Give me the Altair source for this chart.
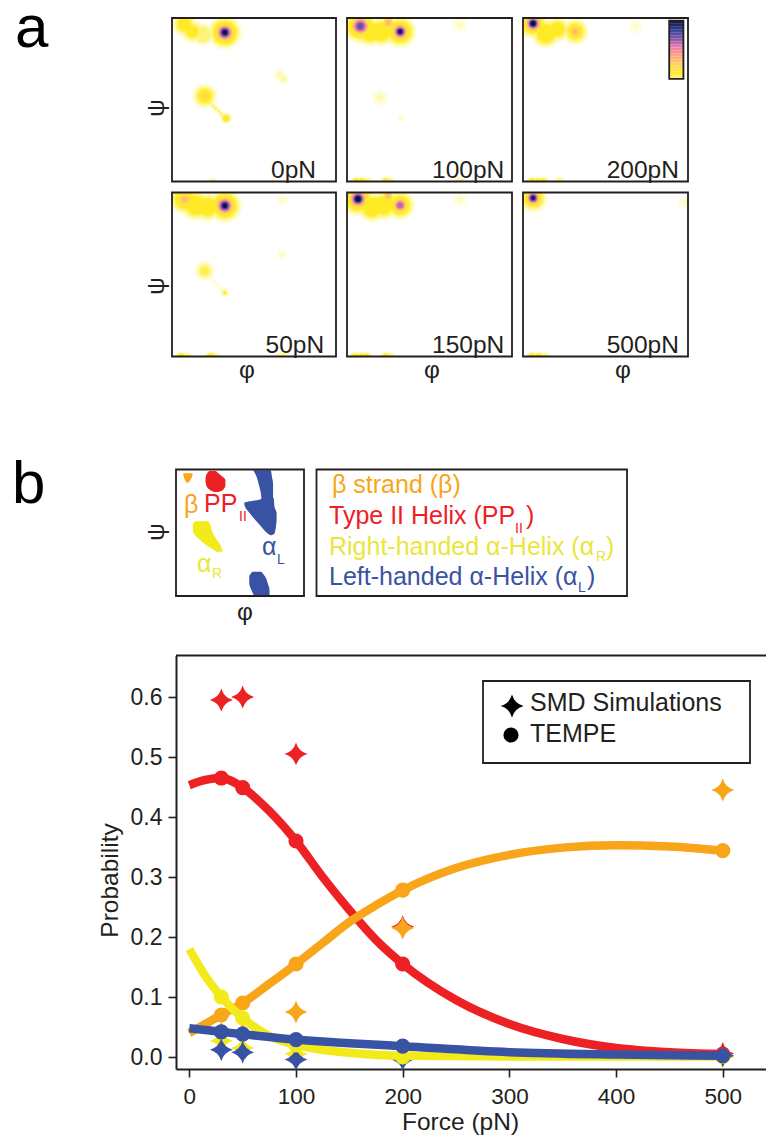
import numpy as np
import pandas as pd
import altair as alt

W, H = 758, 1127
FONT = "Liberation Sans"
INK = "#231f20"
ORANGE, RED, YELLOW, BLUE = "#f9a51a", "#ed2024", "#f2ea1a", "#3953a4"

# ---- panel a: density blobs: (phi, psi, widths in deg, levels) ----
H6 = (.02, .05, .09, .13, .17, .21)
H4 = (.02, .05, .09, .13)
CORE = (.3, .42, .55, .68, .82, 1)
PEAK_W = (88, 80, 73, 66, 60, 54, 42, 36, 30, 24, 18, 12)
PEAK_L = H6 + CORE
TAIL = (17, 11, 6)
TAIL_L = (.02, .08, .16)
EDGE_W = (34, 28, 22)
EDGE_L = (.04, .11, .2)
EDGE_FAINT = (.02, .06, .11)
P0 = [
    (-64, 148, PEAK_W, PEAK_L),
    (-153, 166, (64, 57, 50, 43, 37, 31), H6),
    (-135, 150, (60, 53, 46, 39, 33, 27), H6),
    (-112, 144, (58, 51, 44, 37), H4),
    (-108, 8, (64, 57, 50, 43, 37, 31, 22, 12), H6 + (.25, .31)),
    (-96, -8, TAIL, TAIL_L), (-90, -14, TAIL, TAIL_L), (-84, -19, TAIL, TAIL_L),
    (-78, -25, TAIL, TAIL_L), (-72, -31, TAIL, TAIL_L), (-66, -36, TAIL, TAIL_L),
    (-61, -41, (30, 24, 19, 14), (.03, .08, .15, .24)),
    (56, 55, (28, 20, 12), (.02, .05, .08)),
    (64, 46, (28, 20, 12), (.02, .05, .08)),
    (-90, -186, EDGE_W, EDGE_FAINT),
]
P50 = [
    (-64, 151, PEAK_W, PEAK_L),
    (-152, 165, (78, 71, 64, 57, 51, 45, 32, 22, 14), H6 + (.26, .33, .4)),
    (-128, 152, (78, 71, 64, 57, 51, 45), H6),
    (-102, 148, (74, 67, 60, 53, 47, 41), H6),
    (-108, 8, (50, 44, 38, 30, 20), (.02, .04, .07, .12, .17)),
    (-96, -6, (12, 6), (.02, .05)), (-88, -14, (12, 6), (.02, .05)), (-80, -22, (12, 6), (.02, .05)),
    (-72, -30, (12, 6), (.02, .05)),
    (-64, -40, (24, 17, 12, 7), (.02, .06, .12, .2)),
    (62, 44, (24, 12), (.02, .05)),
    (62, 165, (28, 14), (.02, .04)),
    (-160, -184, EDGE_W, EDGE_L), (-148, -184, EDGE_W, EDGE_FAINT),
    (-95, -184, EDGE_W, EDGE_L), (-85, -184, EDGE_W, EDGE_FAINT),
    (62, -182, EDGE_W, EDGE_FAINT),
]
P100 = [
    (-64, 150, (84, 76, 69, 62, 56, 50, 38, 32, 26, 20, 15, 10), PEAK_L),
    (-151, 162, (90, 82, 75, 68, 62, 56, 42, 36, 30, 24, 18, 12), H6 + (.3, .42, .55, .64, .72, .78)),
    (-130, 150, (76, 69, 62, 55, 49, 43), H6),
    (-105, 150, (76, 69, 62, 55, 49, 43), H6),
    (-90, 170, (24, 14), (.28, .4)),
    (-108, 5, (40, 26, 14), (.02, .04, .07)),
    (-62, -40, (18, 9), (.02, .05)),
    (66, 165, (36, 18), (.02, .05)),
    (-160, -184, EDGE_W, EDGE_L), (-148, -184, EDGE_W, EDGE_L), (-136, -184, EDGE_W, EDGE_FAINT),
    (-95, -184, EDGE_W, EDGE_L), (-85, -184, EDGE_W, EDGE_FAINT),
    (66, -184, EDGE_W, EDGE_FAINT),
]
P150 = [
    (-64, 152, (76, 69, 62, 55, 49, 43, 32, 26, 20, 14), H6 + (.3, .42, .55, .66)),
    (-156, 166, (88, 80, 73, 66, 60, 54, 42, 36, 30, 24, 18, 13), H6 + (.3, .42, .55, .7, .85, 1)),
    (-125, 148, (78, 71, 64, 57, 51, 45), H6),
    (-100, 152, (76, 69, 62, 55, 49, 43), H6),
    (-90, 172, (22, 12), (.28, .4)),
    (66, 165, (36, 16), (.02, .05)),
    (-162, -184, EDGE_W, EDGE_L), (-150, -184, EDGE_W, EDGE_L), (-138, -184, EDGE_W, EDGE_L),
    (-95, -184, EDGE_W, EDGE_L), (-85, -184, EDGE_W, EDGE_FAINT),
]
P200 = [
    (-66, 150, (68, 61, 54, 47, 41, 35, 24, 14), H6 + (.3, .4)),
    (-158, 168, (80, 73, 66, 59, 53, 47, 38, 32, 26, 21, 16, 12), H6 + (.3, .42, .55, .7, .85, 1)),
    (-130, 146, (76, 69, 62, 55, 49, 43), H6),
    (-105, 155, (66, 59, 52, 45, 39, 33), H6),
    (66, 160, (34, 16), (.02, .04)),
    (-160, -184, EDGE_W, EDGE_L), (-148, -184, EDGE_W, EDGE_L), (-136, -184, EDGE_W, EDGE_L),
    (-100, -184, EDGE_W, EDGE_FAINT),
]
P500 = [
    (-158, 168, (74, 67, 60, 53, 47, 41, 34, 28, 23, 18, 13, 9), H6 + (.3, .42, .55, .7, .85, 1)),
    (-160, -184, EDGE_W, EDGE_L), (-146, -184, EDGE_W, EDGE_L), (-132, -184, EDGE_W, EDGE_FAINT),
    (172, 158, (30, 14), (.02, .05)),
]

LEVEL_STOPS = [0, 0.08, 0.2, 0.35, 0.5, 0.6, 0.72, 0.85, 1]
LEVEL_COLORS = ["#fffff6", "#fff9a8", "#ffec1f", "#fed35c", "#f99c8c", "#e77fb0", "#8b58a8", "#2f4596", "#0f1240"]

# ---- panel b: regions as psi rows with phi limits ----
R_ORANGE = [(169, -160, -133), (159, -158, -135), (150, -155, -140), (142, -149, -146)]
R_RED = [(176, -87, -68), (164, -95, -55), (150, -97, -41), (135, -95, -41), (121, -83, -49), (116, -72, -60)]
R_YELLOW = [(33, -126, -89), (22, -133, -83), (3, -132, -78), (-16, -118, -68), (-35, -95, -55), (-54, -66, -49)]
R_BLUE_TOP = [(178, 37, 87), (159, 47, 90), (140, 52, 93), (121, 57, 93), (102, 60, 93), (97, 60, 95),
              (85, 12, 96), (74, 14, 97), (55, 28, 103), (36, 43, 103), (17, 60, 101), (-2, 78, 97), (-7, 86, 89)]
R_BLUE_LOW = [(-111, 35, 60), (-125, 26, 71), (-144, 26, 78), (-163, 32, 83), (-180, 40, 83)]

# ---- main plot ----
CURVE_X = {
    "red": [0, 15, 30, 50, 75, 100, 125, 150, 175, 200, 250, 300, 350, 400, 450, 500],
    "orange": [0, 30, 50, 75, 100, 125, 150, 175, 200, 250, 300, 350, 400, 450, 500],
    "yellow": [0, 15, 30, 50, 75, 100, 125, 150, 200, 300, 400, 500],
    "blue": [0, 30, 50, 100, 150, 200, 300, 400, 500],
}
CURVE_Y = {
    "red": [.453, .462, .465, .449, .41, .36, .30, .245, .195, .155, .095, .055, .03, .015, .008, .005],
    "orange": [.04, .07, .09, .122, .155, .19, .225, .253, .278, .315, .337, .349, .353, .351, .344],
    "yellow": [.18, .135, .10, .065, .035, .02, .012, .007, .002, .001, .001, .001],
    "blue": [.048, .042, .038, .029, .023, .018, .008, .004, .002],
}
TEMPE_X = {"red": [30, 50, 100, 200, 500], "orange": [30, 50, 100, 200, 500],
           "yellow": [30, 50, 100, 200, 500], "blue": [30, 50, 100, 200, 500]}
TEMPE_Y = {"red": [.465, .449, .36, .155, .005], "orange": [.07, .09, .155, .278, .344],
           "yellow": [.10, .065, .02, .0, .001], "blue": [.042, .038, .029, .018, .002]}
SMD_X = [30, 50, 100, 200, 500]
SMD_Y = {"red": [.595, .60, .505, .217, .006], "orange": [.04, .04, .075, .215, .445],
         "yellow": [.027, .015, .005, .0, .0], "blue": [.012, .008, -.004, -.004, .002]}
TICKS_X = [0, 100, 200, 300, 400, 500]
TICKS_Y = [0.0, 0.1, 0.2, 0.3, 0.4, 0.5, 0.6]
SERIES_COLOR = {"red": RED, "orange": ORANGE, "yellow": YELLOW, "blue": BLUE}

STAR = "M0,-1Q0.22,-0.22 1,0Q0.22,0.22 0,1Q-0.22,0.22 -1,0Q-0.22,-0.22 0,-1Z"

NO = None


def px(v):
    return v - 8


def label(s, x, y, size=24.5, color=INK, align="left", angle=0, baseline="middle"):
    return alt.Chart(pd.DataFrame({"t": [s]})).mark_text(
        font=FONT, fontSize=size, color=color, align=align, angle=angle, baseline=baseline
    ).encode(x=alt.value(px(x)), y=alt.value(px(y)), text="t:N")


def sx(rng):
    return alt.Scale(domain=[-180, 180], range=[px(rng[0]), px(rng[1])])


def sy(rng):
    return alt.Scale(domain=[-180, 180], range=[px(rng[1]), px(rng[0])])


PANELS = [
    ("0pN", P0, (172, 336), (18, 181.5), 136),
    ("100pN", P100, (347, 512), (18, 181.5), 163),
    ("200pN", P200, (523, 688), (18, 181.5), 160),
    ("50pN", P50, (172, 336), (192.5, 356.5), 154),
    ("150pN", P150, (347, 512), (192.5, 356.5), 163),
    ("500pN", P500, (523, 688), (192.5, 356.5), 160),
]

layers = []

level_scale = alt.Scale(domain=LEVEL_STOPS, range=LEVEL_COLORS, clamp=True)
width_scale = alt.Scale(type="pow", exponent=2, domain=[0, 100], range=[0, 1660])

# heat maps
for name, blobs, xr, yr, _ in PANELS:
    rows = []
    for phi, psi, widths, levels in blobs:
        for w, l in zip(widths, levels):
            rows.append({"phi": phi, "psi": psi, "w": w, "level": l})
    df = pd.DataFrame(rows).sort_values("level", kind="stable")
    layers.append(alt.Chart(df).mark_circle(opacity=1).encode(
        x=alt.X("phi:Q", scale=sx(xr), axis=NO),
        y=alt.Y("psi:Q", scale=sy(yr), axis=NO),
        size=alt.Size("w:Q", scale=width_scale, legend=NO),
        color=alt.Color("level:Q", scale=level_scale, legend=NO),
        order=alt.Order("level:Q"),
    ))

# masks + frames + labels
MASK = pd.DataFrame({
    "a": [-204, -204, -204, 180], "b": [204, 204, -180, 204],
    "c": [180, -204, -204, -204], "d": [204, -180, 204, 204],
})
FRAME = pd.DataFrame({"a": [-180], "b": [180], "c": [-180], "d": [180]})
for name, blobs, xr, yr, lx in PANELS:
    layers.append(alt.Chart(MASK).mark_rect(color="white").encode(
        x=alt.X("a:Q", scale=sx(xr), axis=NO), x2="b:Q",
        y=alt.Y("c:Q", scale=sy(yr), axis=NO), y2="d:Q"))

# colour bar inside the 200pN panel
bar_levels = np.linspace(0, 1, 40)
bar = pd.DataFrame({"level": bar_levels[:-1] * 0.86 + 0.14, "lo": 46 + bar_levels[:-1] * 128, "hi": 46 + bar_levels[1:] * 128.5,
                    "a": 139, "b": 170})
layers.append(alt.Chart(bar).mark_rect().encode(
    x=alt.X("a:Q", scale=sx((523, 688)), axis=NO), x2="b:Q",
    y=alt.Y("lo:Q", scale=sy((18, 181.5)), axis=NO), y2="hi:Q",
    color=alt.Color("level:Q", scale=level_scale, legend=NO)))
bar_frame = pd.DataFrame({"a": [139], "b": [170], "c": [46], "d": [174]})
layers.append(alt.Chart(bar_frame).mark_rect(filled=False, stroke=INK, strokeWidth=1.8).encode(
    x=alt.X("a:Q", scale=sx((523, 688)), axis=NO), x2="b:Q",
    y=alt.Y("c:Q", scale=sy((18, 181.5)), axis=NO), y2="d:Q"))

for name, blobs, xr, yr, lx in PANELS:
    layers.append(alt.Chart(FRAME).mark_rect(filled=False, stroke=INK, strokeWidth=1.8).encode(
        x=alt.X("a:Q", scale=sx(xr), axis=NO), x2="b:Q",
        y=alt.Y("c:Q", scale=sy(yr), axis=NO), y2="d:Q"))
    layers.append(alt.Chart(pd.DataFrame({"t": [name], "phi": [lx], "psi": [-172]})).mark_text(
        font=FONT, fontSize=24.5, color=INK, align="right", baseline="alphabetic").encode(
        x=alt.X("phi:Q", scale=sx(xr), axis=NO),
        y=alt.Y("psi:Q", scale=sy(yr), axis=NO), text="t:N"))

layers += [
    label("a", 15, 47, size=60, color="#000000", baseline="alphabetic"),
    label("b", 12, 503, size=60, color="#000000", baseline="alphabetic"),
    label("φ", 239, 371), label("φ", 424, 371), label("φ", 615, 371),
    label("ψ", 157, 108, align="center", angle=270), label("ψ", 157, 286, align="center", angle=270),
    label("φ", 237, 613), label("ψ", 157, 532, align="center", angle=270),
]

# panel b key map
KX, KY = (176, 304), (469.5, 596)
for rows, col in [(R_ORANGE, ORANGE), (R_RED, RED), (R_YELLOW, YELLOW), (R_BLUE_TOP, BLUE), (R_BLUE_LOW, BLUE)]:
    d = pd.DataFrame(rows, columns=["psi", "lo", "hi"])
    layers.append(alt.Chart(d).mark_area(orient="horizontal", color=col, interpolate="monotone").encode(
        y=alt.Y("psi:Q", scale=sy(KY), axis=NO),
        x=alt.X("lo:Q", scale=sx(KX), axis=NO), x2="hi:Q"))
layers.append(alt.Chart(FRAME).mark_rect(filled=False, stroke=INK, strokeWidth=1.8).encode(
    x=alt.X("a:Q", scale=sx(KX), axis=NO), x2="b:Q",
    y=alt.Y("c:Q", scale=sy(KY), axis=NO), y2="d:Q"))
layers.append(alt.Chart(FRAME).mark_rect(filled=False, stroke=INK, strokeWidth=1.8).encode(
    x=alt.X("a:Q", scale=sx((316.5, 627)), axis=NO), x2="b:Q",
    y=alt.Y("c:Q", scale=sy(KY), axis=NO), y2="d:Q"))

TXT_YEL = "#e9e63c"
LEG = 25
layers += [
    label("β", 184, 505, color=ORANGE, size=25),
    label("PP", 204, 504, color=RED, size=25), label("II", 239, 517, size=14, color=RED),
    label("α", 262, 547, color=BLUE, size=25), label("L", 277, 560, size=14, color=BLUE),
    label("α", 197, 564, color=TXT_YEL, size=25), label("R", 212, 574, size=14, color=TXT_YEL),
    label("β strand (β)", 332, 485, color=ORANGE, size=LEG),
    label("Type II Helix (PP", 329, 516, color=RED, size=LEG), label("II", 515, 529, size=14, color=RED), label(")", 526, 516, color=RED, size=LEG),
    label("Right-handed α-Helix (α", 329, 547, color=TXT_YEL, size=LEG), label("R", 596, 557, size=14, color=TXT_YEL), label(")", 606, 547, color=TXT_YEL, size=LEG),
    label("Left-handed α-Helix (α", 329, 577, color=BLUE, size=LEG), label("L", 578, 588, size=14, color=BLUE), label(")", 587, 577, color=BLUE, size=LEG),
]

# main plot
MX = alt.Scale(domain=[-12.47, 548], range=[px(176), px(774)])
MY = alt.Scale(domain=[-0.02, 0.6692], range=[px(1069), px(655.5)])
x_axis = alt.Axis(orient="bottom", offset=-(H - px(1069)), values=TICKS_X, grid=False, title="Force (pN)",
                  titleFont=FONT, titleFontSize=24.5, titleFontWeight="normal", titleColor=INK,
                  titleX=px(460), titleY=41, titleAlign="center",
                  labelFont=FONT, labelFontSize=22.5, labelColor=INK, labelPadding=8, tickSize=8, tickWidth=1.6,
                  tickColor=INK, domainColor=INK, domainWidth=2, format="d")
y_axis = alt.Axis(orient="left", offset=-px(176), values=TICKS_Y, grid=False, title="Probability",
                  titleFont=FONT, titleFontSize=24.5, titleFontWeight="normal", titleColor=INK,
                  titleX=-66, titleY=px(880), titleAlign="center", titleBaseline="middle",
                  labelFont=FONT, labelFontSize=23, labelColor=INK, labelPadding=6, tickSize=8, tickWidth=1.6,
                  tickColor=INK, domainColor=INK, domainWidth=2, format=".1f")

layers.append(alt.Chart(pd.DataFrame({"a": [-12.47], "b": [548], "c": [0.6692]})).mark_rule(color=INK, strokeWidth=2).encode(
    x=alt.X("a:Q", scale=MX, axis=x_axis), x2="b:Q", y=alt.Y("c:Q", scale=MY, axis=y_axis)))

for s in ["red", "orange", "yellow", "blue"]:
    d = pd.DataFrame({"f": SMD_X, "p": SMD_Y[s]})
    layers.append(alt.Chart(d).mark_point(shape=STAR, filled=True, size=529, color=SERIES_COLOR[s], opacity=1).encode(
        x=alt.X("f:Q", scale=MX, axis=NO), y=alt.Y("p:Q", scale=MY, axis=NO)))
for s in ["red", "orange", "yellow", "blue"]:
    d = pd.DataFrame({"f": CURVE_X[s], "p": CURVE_Y[s]})
    layers.append(alt.Chart(d).mark_line(color=SERIES_COLOR[s], strokeWidth=8.5, interpolate="monotone").encode(
        x=alt.X("f:Q", scale=MX, axis=NO), y=alt.Y("p:Q", scale=MY, axis=NO)))
    d = pd.DataFrame({"f": TEMPE_X[s], "p": TEMPE_Y[s]})
    layers.append(alt.Chart(d).mark_circle(color=SERIES_COLOR[s], size=230, opacity=1).encode(
        x=alt.X("f:Q", scale=MX, axis=NO), y=alt.Y("p:Q", scale=MY, axis=NO)))

# legend of the main plot
layers.append(alt.Chart(FRAME).mark_rect(filled=False, stroke=INK, strokeWidth=1.8).encode(
    x=alt.X("a:Q", scale=sx((483, 750)), axis=NO), x2="b:Q",
    y=alt.Y("c:Q", scale=sy((681, 763)), axis=NO), y2="d:Q"))
layers.append(alt.Chart(pd.DataFrame({"t": ["SMD"]})).mark_point(shape=STAR, filled=True, size=529, color="#000000", opacity=1).encode(
    x=alt.value(px(512)), y=alt.value(px(706))))
layers.append(alt.Chart(pd.DataFrame({"t": ["TEMPE"]})).mark_circle(size=230, color="#000000", opacity=1).encode(
    x=alt.value(px(511)), y=alt.value(px(735))))
layers += [label("SMD Simulations", 530, 703, size=25), label("TEMPE", 530, 734, size=25)]

chart = alt.layer(*layers).resolve_scale(
    x="independent", y="independent"
).properties(width=W, height=H, padding=0, autosize=alt.AutoSizeParams(type="none"), background="white"
).configure_view(stroke=None)

chart.save("out.html", embed_options={"renderer": "svg", "actions": False})
